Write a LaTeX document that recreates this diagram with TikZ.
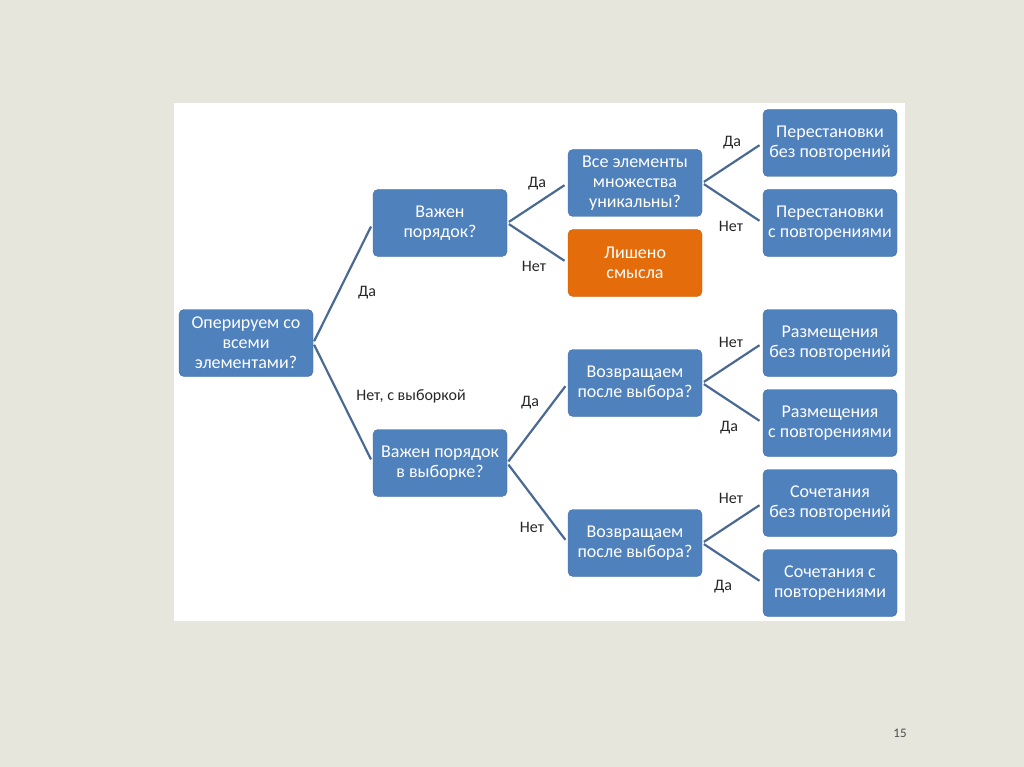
\documentclass[tikz,border=0pt]{standalone}
\usepackage{fontspec}
\setmainfont{Carlito}
\usepackage{tikz}
\usetikzlibrary{
  % node placement
  positioning,%
  calc
}
\definecolor{slidebg}{RGB}{230,230,221}
\definecolor{boxblue}{RGB}{79,129,189}
\definecolor{boxedge}{RGB}{65,108,160}
\definecolor{boxorange}{RGB}{228,108,10}
\definecolor{orangeedge}{RGB}{200,95,10}
\definecolor{linkblue}{RGB}{74,106,148}
\tikzset{font=\fontsize{16}{18}\selectfont}
\tikzset{qbox/.style={draw=boxedge, fill=boxblue, rounded corners=5pt,
  minimum width=134pt, minimum height=67pt, align=center,
  text=white, inner sep=0pt, font=\fontsize{18}{20}\selectfont}}
\tikzset{obox/.style={qbox, draw=orangeedge, fill=boxorange}}
\tikzset{link/.style={draw=linkblue, line width=2.2pt, shorten <=2pt, shorten >=4pt}}
\tikzset{ans/.style={text=black!85, inner sep=0pt}}

\begin{document}
\begin{tikzpicture}[x=1pt, y=-1pt]
  \useasboundingbox (0,0) rectangle (1024,767);
  \fill[slidebg] (0,0) rectangle (1024,767); %
  \fill[white] (174,103) rectangle (905,621); %
  % question boxes
  \node[qbox] (root) at (246,343) {Оперируем со\\всеми\\элементами?};
  \node[qbox] (ord) at (440,223) {Важен\\порядок?};
  \node[qbox] (ordsel) at (440,463) {Важен порядок\\в выборке?};
  \node[qbox] (uniq) at (635,183) {Все элементы\\множества\\уникальны?};
  \node[obox] (none) at (635,263) {Лишено\\смысла};
  \node[qbox] (retA) at (635,383) {Возвращаем\\после выбора?};
  \node[qbox] (retB) at (635,543) {Возвращаем\\после выбора?};
  % answer boxes
  \node[qbox] (permA) at (830,143) {Перестановки\\без повторений};
  \node[qbox] (permB) at (830,223) {Перестановки\\с повторениями};
  \node[qbox] (arrA) at (830,343) {Размещения\\без повторений};
  \node[qbox] (arrB) at (830,423) {Размещения\\с повторениями};
  \node[qbox] (combA) at (830,503) {Сочетания\\без повторений};
  \node[qbox] (combB) at (830,583) {Сочетания с\\повторениями};
  % connectors
  \draw[link] (root.east) -- (ord.west); %
  \draw[link] (root.east) -- (ordsel.west); %
  \draw[link] (ord.east) -- (uniq.west); %
  \draw[link] (ord.east) -- (none.west); %
  \draw[link] (uniq.east) -- (permA.west); %
  \draw[link] (uniq.east) -- (permB.west); %
  \draw[link] (ordsel.east) -- (retA.west); %
  \draw[link] (ordsel.east) -- (retB.west); %
  \draw[link] (retA.east) -- (arrA.west); %
  \draw[link] (retA.east) -- (arrB.west); %
  \draw[link] (retB.east) -- (combA.west); %
  \draw[link] (retB.east) -- (combB.west); %
  % branch labels
  \node[ans] (l1) at (367,293) {Да};
  \node[ans] (l2) at (411,396) {Нет, с выборкой};
  \node[ans] (l3) at (537,184) {Да};
  \node[ans] (l4) at (534,266) {Нет};
  \node[ans] (l5) at (732,143) {Да};
  \node[ans] (l6) at (731,226) {Нет};
  \node[ans] (l7) at (530,403) {Да};
  \node[ans] (l8) at (532,527) {Нет};
  \node[ans] (l9) at (731,342) {Нет};
  \node[ans] (l10) at (729,428) {Да};
  \node[ans] (l11) at (731,498) {Нет};
  \node[ans] (l12) at (723,587) {Да};
  \node[text=black!70, font=\fontsize{13}{15}\selectfont] (pg) at (900,733) {15};
\end{tikzpicture}
\end{document}
